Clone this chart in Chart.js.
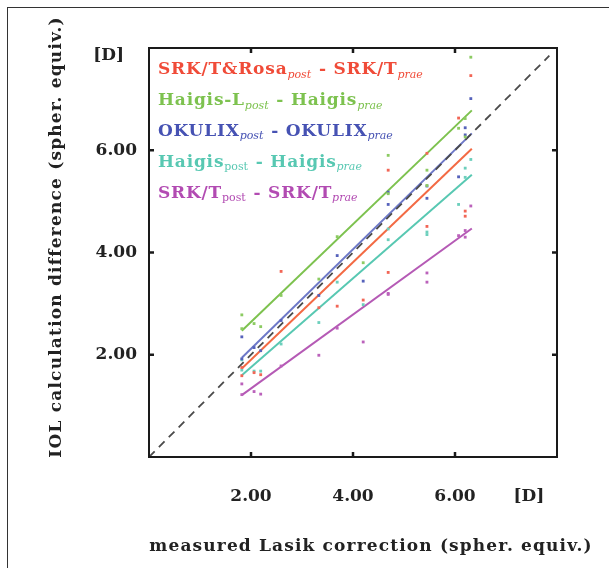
<!DOCTYPE html>
<html>
<head>
<meta charset="utf-8">
<script src="https://cdn.jsdelivr.net/npm/chart.js@4.4.1/dist/chart.umd.min.js"></script>
<style>
    html, body { margin: 0; padding: 0; background: #fff; }
    body { width: 609px; height: 568px; overflow: hidden; position: relative; }
    .frame { position: absolute; left: 7px; top: 7px; width: 700px; height: 700px; border: 1.5px solid #333; }
    .wrap { position: absolute; left: 0; top: 0; width: 609px; height: 568px; }
</style>
</head>
<body>
<div class="frame"></div>
<div class="wrap"><canvas id="lasikChart" width="609" height="568"></canvas></div>
<script>
// measured Lasik correction per eye [D]
const lasikX = [1.82, 1.82, 2.06, 2.19, 2.59, 3.33, 3.69, 4.20, 4.69, 4.69, 5.45, 5.45, 6.07, 6.20, 6.31, 6.20];
// IOL calculation differences [D]
const srkRosaDiff = [1.59, 1.75, 1.65, 1.61, 3.63, 2.92, 2.95, 3.07, 5.61, 3.61, 5.94, 4.51, 6.63, 4.81, 7.46, 4.71];
const haigisLDiff = [2.78, 2.51, 2.61, 2.55, 3.16, 3.48, 4.31, 3.80, 5.90, 5.15, 5.61, 5.31, 6.43, 6.62, 7.82, 6.26];
const okulixDiff  = [2.35, 1.92, 2.14, 2.08, 2.67, 3.16, 3.94, 3.44, 5.18, 4.94, 5.06, 5.30, 5.48, 6.44, 7.01, 6.30];
const haigisDiff  = [1.90, 1.70, 1.68, 1.68, 2.21, 2.63, 3.42, 2.98, 4.46, 4.25, 4.35, 4.40, 4.94, 5.65, 5.82, 5.47];
const srkDiff     = [1.43, 1.22, 1.28, 1.23, 1.78, 1.99, 2.52, 2.25, 3.18, 3.20, 3.60, 3.42, 4.33, 4.43, 4.91, 4.30];

// regression lines, values at both ends
const fitX        = [1.82, 6.33];
const srkRosaFit  = [1.73, 6.03];
const haigisLFit  = [2.47, 6.78];
const okulixFit   = [1.94, 6.33];
const haigisFit   = [1.60, 5.52];
const srkFit      = [1.21, 4.47];

const identityX = [0, 7.85];
const axisTicks = [2, 4, 6];

const seriesNames = [
    [['SRK/T&Rosa', 'b'], ['post', 'i'], [' - SRK/T', 'b'], ['prae', 'i']],
    [['Haigis-L', 'b'], ['post', 'i'], [' - Haigis', 'b'], ['prae', 'i']],
    [['OKULIX', 'b'], ['post', 'i'], [' - OKULIX', 'b'], ['prae', 'i']],
    [['Haigis', 'b'], ['post', 'r'], [' - Haigis', 'b'], ['prae', 'i']],
    [['SRK/T', 'b'], ['post', 'r'], [' - SRK/T', 'b'], ['prae', 'i']]
];
const seriesColors = ['#f04b38', '#7dc24f', '#4652b3', '#58c8b2', '#b24bb2'];
const pointColors  = ['#f26656', '#8ccb62', '#5662bb', '#6ccfbc', '#bb62bb'];
const lineColors   = ['#f36a44', '#7dc24f', '#6d78c8', '#58c8b2', '#b55ab5'];

const serif = '"DejaVu Serif", serif';

const seriesValues = [srkRosaDiff, haigisLDiff, okulixDiff, haigisDiff, srkDiff];
const seriesFits = [srkRosaFit, haigisLFit, okulixFit, haigisFit, srkFit];

const datasets = [];
datasets.push({
    type: 'line',
    data: identityX.map(v => ({ x: v, y: v })),
    borderColor: '#4a4a4a',
    borderWidth: 1.8,
    borderDash: [8, 6],
    pointRadius: 0,
    order: 3
});
seriesFits.forEach((fit, i) => {
    datasets.push({
        type: 'line',
        data: fitX.map((x, k) => ({ x: x, y: fit[k] })),
        borderColor: lineColors[i],
        borderWidth: 2,
        pointRadius: 0,
        order: i === 2 ? 4 : 2
    });
});
seriesValues.forEach((vals, i) => {
    datasets.push({
        type: 'scatter',
        data: lasikX.map((x, k) => ({ x: x, y: vals[k] })),
        backgroundColor: pointColors[i],
        borderWidth: 0,
        pointStyle: 'rect',
        pointRadius: 2,
        order: 1
    });
});

const framePlugin = {
    id: 'framePlugin',
    afterDatasetsDraw(chart) {
        const ctx = chart.ctx;
        const a = chart.chartArea;
        const xs = chart.scales.x, ys = chart.scales.y;
        ctx.save();
        ctx.strokeStyle = '#1a1a1a';
        ctx.lineWidth = 2;
        ctx.strokeRect(a.left, a.top, a.right - a.left, a.bottom - a.top);
        ctx.lineWidth = 2.5;
        ctx.beginPath();
        axisTicks.forEach(v => {
            const px = xs.getPixelForValue(v);
            ctx.moveTo(px, a.bottom); ctx.lineTo(px, a.bottom - 5);
            ctx.moveTo(px, a.top); ctx.lineTo(px, a.top + 5);
            const py = ys.getPixelForValue(v);
            ctx.moveTo(a.left, py); ctx.lineTo(a.left + 5, py);
            ctx.moveTo(a.right, py); ctx.lineTo(a.right - 5, py);
        });
        ctx.stroke();

        // legend
        ctx.textBaseline = 'middle';
        seriesNames.forEach((parts, i) => {
            let x = a.left + 9;
            const y = a.top + 22 + i * 30.8;
            ctx.fillStyle = seriesColors[i];
            parts.forEach(p => {
                let dy = 0;
                if (p[1] === 'b') { ctx.font = 'bold 17px ' + serif; ctx.letterSpacing = '0.8px'; }
                else if (p[1] === 'i') { ctx.font = 'italic 11px ' + serif; ctx.letterSpacing = '0px'; dy = 5; }
                else { ctx.font = '11px ' + serif; ctx.letterSpacing = '0px'; dy = 5; }
                ctx.fillText(p[0], x, y + dy);
                x += ctx.measureText(p[0]).width + (p[1] === 'b' ? 0 : 1);
            });
        });

        // unit labels and axis titles
        ctx.fillStyle = '#222';
        ctx.font = 'bold 17px ' + serif;
        ctx.letterSpacing = '0px';
        ctx.textAlign = 'right';
        ctx.fillText('[D]', 124, ys.getPixelForValue(7.86));
        ctx.textAlign = 'center';
        ctx.fillText('[D]', xs.getPixelForValue(7.45), 497);
        ctx.letterSpacing = '1.15px';
        ctx.fillText('measured Lasik correction (spher. equiv.)', 371, 547);
        ctx.letterSpacing = '1.2px';
        ctx.translate(57, 237);
        ctx.rotate(-Math.PI / 2);
        ctx.fillText('IOL calculation difference (spher. equiv.)', 0, 0);
        ctx.restore();
    }
};

new Chart(document.getElementById('lasikChart'), {
    type: 'scatter',
    data: { datasets: datasets },
    options: {
        responsive: false,
        animation: false,
        devicePixelRatio: 1,
        layout: { padding: { left: 0, top: 48, right: 52, bottom: 0 } },
        plugins: { legend: { display: false }, tooltip: { enabled: false } },
        scales: {
            x: {
                type: 'linear', min: 0, max: 8,
                grid: { display: false },
                border: { display: false },
                afterFit: s => { s.height = 111; },
                ticks: {
                    stepSize: 2, padding: 21, color: '#222',
                    font: { family: serif, size: 17, weight: 'bold' },
                    callback: v => axisTicks.includes(v) ? v.toFixed(2) : ''
                }
            },
            y: {
                type: 'linear', min: 0, max: 8,
                grid: { display: false },
                border: { display: false },
                afterFit: s => { s.width = 149; },
                ticks: {
                    stepSize: 2, padding: 4, color: '#222',
                    font: { family: serif, size: 17, weight: 'bold' },
                    callback: v => axisTicks.includes(v) ? v.toFixed(2) : ''
                }
            }
        }
    },
    plugins: [framePlugin]
});
</script>
</body>
</html>
